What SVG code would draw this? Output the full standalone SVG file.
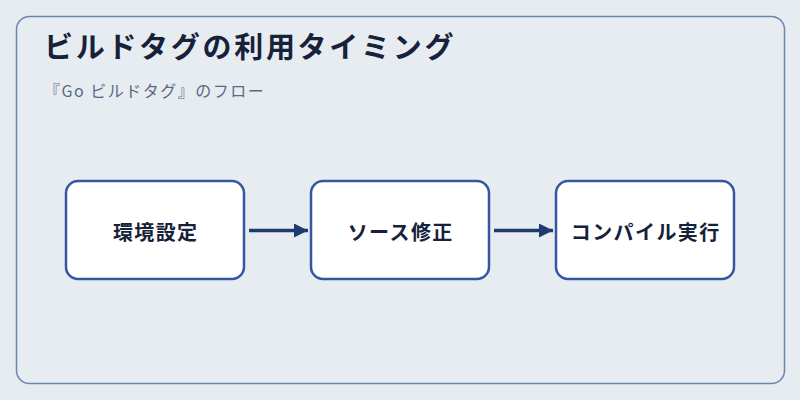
<svg xmlns="http://www.w3.org/2000/svg" width="800" height="400" viewBox="0 0 800 400">
<style>
.title{font-family:"Noto Sans CJK JP","Noto Sans",sans-serif;font-weight:700;font-size:29px;fill:#16213a;letter-spacing:2.7px}
.sub{font-family:"Noto Sans CJK JP","Noto Sans",sans-serif;font-size:16px;fill:#5a6a85;letter-spacing:1.5px}
.box{fill:#ffffff;stroke:#3557a0;stroke-width:2.5}
.lbl{font-family:"Noto Sans CJK JP","Noto Sans",sans-serif;font-weight:700;font-size:20px;fill:#16213a;text-anchor:middle;dominant-baseline:central;letter-spacing:1.4px}
.edge{stroke:#1f3a6e;stroke-width:3.5;fill:none}
</style>
<defs>
<marker id="arr" viewBox="0 0 10 10" refX="10" refY="5" markerWidth="4" markerHeight="4" markerUnits="strokeWidth" orient="auto">
<path d="M0,0 L10,5 L0,10 Z" fill="#1f3a6e"/>
</marker>
</defs>
<rect x="0" y="0" width="800" height="400" fill="#e7ecf1"/>
<rect x="16.5" y="16.5" width="768" height="367" rx="13" fill="none" stroke="#6a83b0" stroke-width="1.5"/>
<text class="title" x="44" y="58">ビルドタグの利用タイミング</text>
<text class="sub" x="44" y="97">『Go ビルドタグ』のフロー</text>
<g id="connectors">
<line class="edge" x1="249" y1="230.5" x2="308" y2="230.5" marker-end="url(#arr)"/>
<line class="edge" x1="494" y1="230.5" x2="553" y2="230.5" marker-end="url(#arr)"/>
</g>
<g id="node1">
<rect class="box" x="66" y="181" width="178" height="98" rx="12"/>
<text class="lbl" x="155.7" y="231">環境設定</text>
</g>
<g id="node2">
<rect class="box" x="311" y="181" width="178" height="98" rx="12"/>
<text class="lbl" x="400.7" y="231">ソース修正</text>
</g>
<g id="node3">
<rect class="box" x="556" y="181" width="178" height="98" rx="12"/>
<text class="lbl" x="645.7" y="231">コンパイル実行</text>
</g>
</svg>
